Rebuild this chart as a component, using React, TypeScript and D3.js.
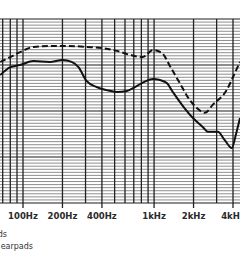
import * as d3 from 'd3';

// frequency grid (Hz) and labelled ticks
const gridFreqs = [60, 70, 80, 90, 100, 200, 300, 400, 500, 600, 700, 800, 900, 1000, 2000, 3000, 4000];
const tickFreqs = [100, 200, 400, 1000, 2000, 4000];
const tickLabels = ['100Hz', '200Hz', '400Hz', '1kHz', '2kHz', '4kHz'];

// level grid (dB)
const minorLevels = d3.range(-30, 31, 1);
const majorLevels = [-30, -15, 0, 15, 30];

// solid curve
const solidFreq = [67, 80, 95, 120, 160, 200, 235, 265, 305, 365, 435, 520, 620, 715, 850, 980, 1110, 1250, 1390, 1660, 1980, 2350, 2570, 3060, 3460, 3920, 4200, 4520];
const solidDb = [11.7, 14.3, 15.0, 16.3, 16.0, 16.6, 16.0, 14.3, 9.8, 7.8, 6.8, 6.2, 6.5, 7.8, 9.6, 10.4, 10.1, 9.1, 6.2, 1.6, -2.3, -5.2, -6.8, -6.8, -9.5, -12.1, -7.8, -2.3];

// dashed curve
const dashFreq = [67, 80, 95, 120, 160, 215, 305, 405, 520, 655, 820, 980, 1150, 1320, 1570, 1870, 2120, 2440, 2800, 3590, 4130, 4520];
const dashDb = [16.0, 17.6, 19.2, 20.9, 21.2, 21.2, 20.9, 20.5, 19.6, 18.3, 17.6, 19.9, 18.9, 14.7, 9.1, 3.6, 1.0, -0.6, 2.0, 6.9, 12.4, 16.0];

const legendLabels = ['Original earpads', 'With new earpads'];

const W = 240;
const H = 270;
const top = 19;
const bottom = 203;

export default function App() {
  const x = d3.scaleLog().domain([100, 4000]).range([23, 233]);
  const y = d3.scaleLinear().domain([-30, 30]).range([bottom, top]);

  const line = d3
    .line<[number, number]>()
    .x((d) => x(d[0]))
    .y((d) => y(d[1]))
    .curve(d3.curveMonotoneX);

  const solid = line(solidFreq.map((f, i) => [f, solidDb[i]]));
  const dashed = line(dashFreq.map((f, i) => [f, dashDb[i]]));

  return (
    <svg
      width={W}
      height={H}
      style={{ position: 'absolute', left: 0, top: 0, background: '#fff' }}
    >
      <g>
        {minorLevels.map((v) => (
          <line key={v} x1={0} x2={W} y1={y(v)} y2={y(v)} stroke="#8e8e8e" strokeWidth={1} />
        ))}
        {majorLevels.map((v) => (
          <line key={'m' + v} x1={0} x2={W} y1={y(v)} y2={y(v)} stroke="#555" strokeWidth={1.2} />
        ))}
      </g>
      <g>
        {gridFreqs.map((f) => (
          <line
            key={f}
            x1={x(f)}
            x2={x(f)}
            y1={top}
            y2={tickFreqs.includes(f) ? bottom + 5 : bottom}
            stroke="#222"
            strokeWidth={1.3}
          />
        ))}
      </g>
      <path d={dashed ?? ''} fill="none" stroke="#111" strokeWidth={2} strokeDasharray="6,3" />
      <path d={solid ?? ''} fill="none" stroke="#111" strokeWidth={2} />
      <g fontFamily="DejaVu Sans" fontWeight="bold" fontSize={8.5} fill="#2a2a2a" textAnchor="middle">
        {tickFreqs.map((f, i) => (
          <text key={f} x={x(f)} y={219}>
            {tickLabels[i]}
          </text>
        ))}
      </g>
      <g fontFamily="DejaVu Sans" fontSize={8} fill="#333" textAnchor="end">
        <text x={7} y={237}>{legendLabels[0]}</text>
        <text x={33} y={249}>{legendLabels[1]}</text>
      </g>
    </svg>
  );
}
